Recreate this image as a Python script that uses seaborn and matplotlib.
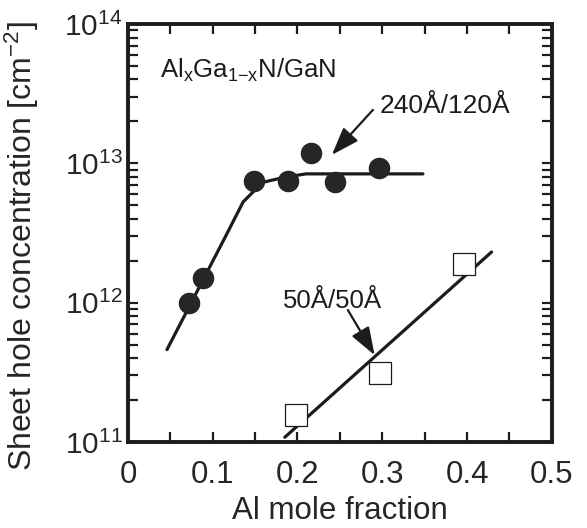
import seaborn as sns
import matplotlib.pyplot as plt
import matplotlib.ticker as mticker
import numpy as np
import pandas as pd

# 240A/120A superlattice (filled circles)
x_circ = [0.072, 0.089, 0.149, 0.189, 0.216, 0.244, 0.296]
y_circ = [1.0e12, 1.5e12, 7.5e12, 7.5e12, 1.18e13, 7.3e12, 9.3e12]
# guide line for the circles
x_fit1 = [0.046, 0.114, 0.136, 0.159, 0.183, 0.21, 0.348]
y_fit1 = [4.6e11, 2.9e12, 5.3e12, 7.3e12, 7.9e12, 8.4e12, 8.4e12]

# 50A/50A superlattice (open squares)
x_sq = [0.198, 0.297, 0.397]
y_sq = [1.55e11, 3.1e11, 1.9e12]
x_fit2 = [0.185, 0.429]
y_fit2 = [1.08e11, 2.31e12]

# arrow ends (tail, tip)
arrow1 = [(0.289, 2.42e13), (0.2406, 1.15e13)]
arrow2 = [(0.2594, 8.85e11), (0.291, 4.2e11)]

sns.set_style("ticks")
plt.rcParams['font.family'] = ['Liberation Sans', 'DejaVu Sans']
plt.rcParams['mathtext.fontset'] = 'custom'
plt.rcParams['mathtext.rm'] = 'Liberation Sans'
plt.rcParams['mathtext.it'] = 'Liberation Sans'
plt.rcParams['mathtext.bf'] = 'Liberation Sans:bold'

fig = plt.figure(figsize=(5.87, 5.28), dpi=100)
ax = fig.add_axes([0.218, 0.163, 0.722, 0.7915])

dark = '#1c1c1c'
sns.lineplot(x=x_fit1, y=y_fit1, ax=ax, color=dark, lw=2.3, sort=False)
sns.lineplot(x=x_fit2, y=y_fit2, ax=ax, color=dark, lw=2.3, sort=False)
ax.plot(x_circ, y_circ, 'o', ms=14.5, mfc='#262626', mec='#262626', zorder=3)
ax.plot(x_sq, y_sq, 's', ms=15.5, mfc='white', mec=dark, mew=0.9, zorder=3)

ax.set_yscale('log')
ax.set_xlim(0, 0.5)
ax.set_ylim(1e11, 1e14)

ax.xaxis.set_major_locator(mticker.MultipleLocator(0.1))
ax.xaxis.set_minor_locator(mticker.MultipleLocator(0.05))
ax.xaxis.set_major_formatter(mticker.FuncFormatter(lambda v, p: '0' if v == 0 else f'{v:.1f}'))
ax.yaxis.set_major_locator(mticker.LogLocator(base=10, numticks=10))
ax.yaxis.set_minor_locator(mticker.LogLocator(base=10, subs=np.arange(2, 10), numticks=20))
ax.yaxis.set_minor_formatter(mticker.NullFormatter())
ax.yaxis.set_major_formatter(mticker.FuncFormatter(
    lambda v, p: r'$\mathregular{10^{%d}}$' % int(round(np.log10(v)))))

ax.tick_params(which='both', direction='in', top=True, right=True,
               length=7, width=1.6, color=dark)
ax.tick_params(axis='x', which='major', labelsize=22.5, pad=13)
ax.tick_params(axis='y', which='major', labelsize=21.5, pad=4)
for s in ax.spines.values():
    s.set_linewidth(2.8)
    s.set_color(dark)

ax.set_xlabel('Al mole fraction', fontsize=22.5)
ax.set_ylabel(r'Sheet hole concentration [cm$^{\mathregular{-2}}$]', fontsize=23)
ax.xaxis.set_label_coords(0.5, -0.129)
ax.yaxis.set_label_coords(-0.205, 0.469)

ax.text(0.075, 0.89, r'Al$_x$Ga$_{1\mathregular{-}x}$N/GaN', transform=ax.transAxes,
        fontsize=18.5, va='center', ha='left', color=dark)
ax.text(0.594, 0.787, '240Å/120Å', transform=ax.transAxes,
        fontsize=19, va='baseline', ha='left', color=dark)
ax.text(0.366, 0.321, '50Å/50Å', transform=ax.transAxes,
        fontsize=18.5, va='baseline', ha='left', color=dark)

for tail, tip in [arrow1, arrow2]:
    ax.annotate('', xy=tip, xytext=tail,
                arrowprops=dict(arrowstyle='-|>,head_length=0.9,head_width=0.32',
                                color=dark, lw=1.6, mutation_scale=19,
                                shrinkA=0, shrinkB=0))

plt.savefig('out.png', dpi=100)
plt.close()
